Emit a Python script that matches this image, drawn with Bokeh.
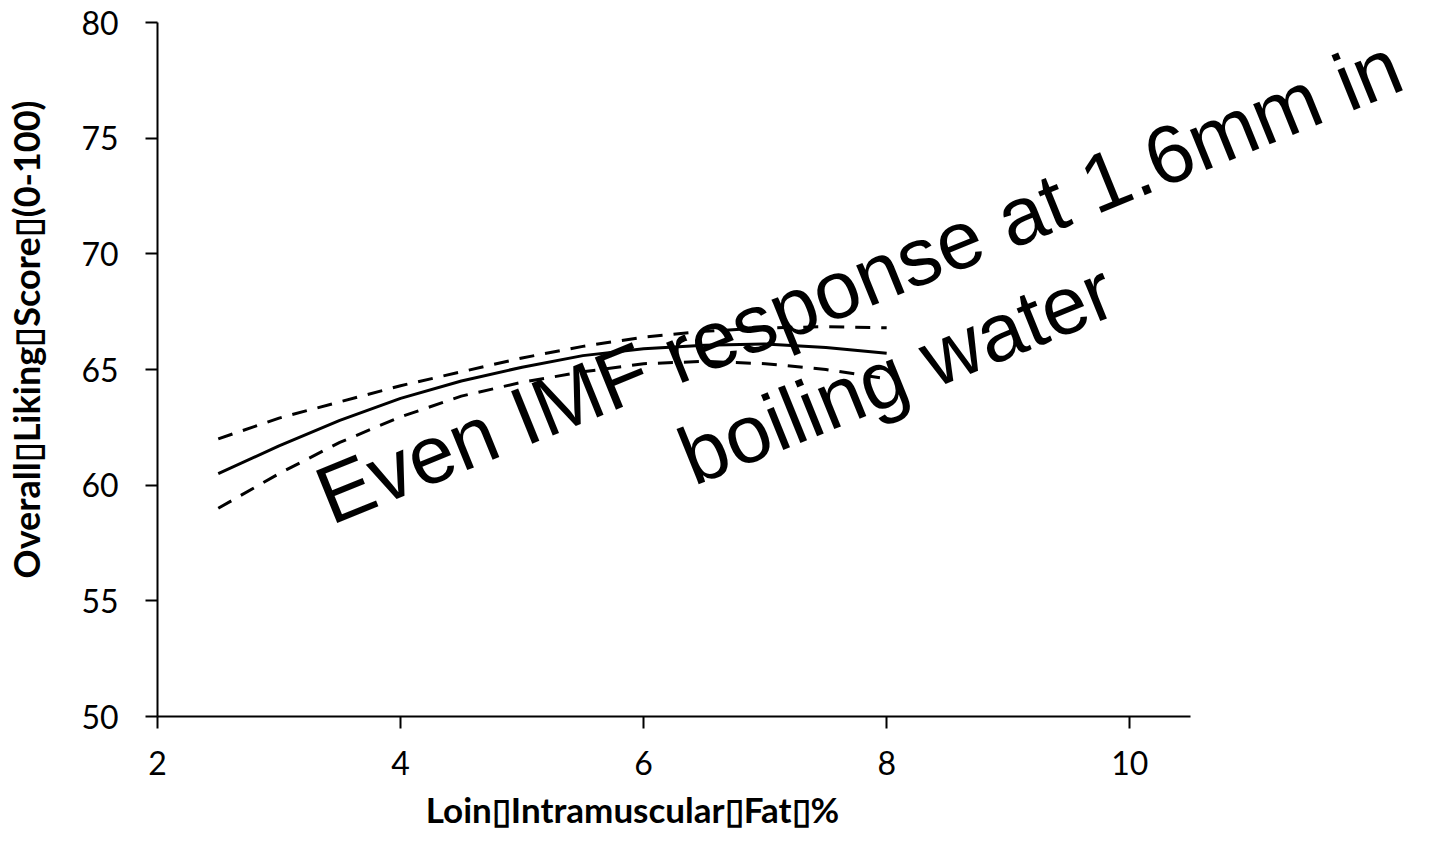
from bokeh.plotting import figure
from bokeh.models import Range1d, FixedTicker, Label
from bokeh.embed import file_html
from bokeh.resources import INLINE

# Loin IMF (%) and predicted overall liking with confidence bounds
imf = [2.5, 3.0, 3.5, 4.0, 4.5, 5.0, 5.5, 6.0, 6.5, 7.0, 7.5, 8.0]
liking_pred = [60.5, 61.7, 62.8, 63.75, 64.5, 65.1, 65.6, 65.9, 66.05, 66.1, 65.95, 65.7]
liking_upper = [62.0, 62.9, 63.6, 64.3, 64.9, 65.5, 66.0, 66.4, 66.65, 66.8, 66.85, 66.8]
liking_lower = [59.0, 60.5, 61.85, 62.95, 63.85, 64.45, 64.9, 65.25, 65.35, 65.25, 65.0, 64.6]

x_ticks = [2, 4, 6, 8, 10]
y_ticks = [50, 55, 60, 65, 70, 75, 80]
x_axis_bounds = (2, 10.5)
y_axis_bounds = (50, 80)

BOX = "\u25af"
x_title = f"Loin{BOX}Intramuscular{BOX}Fat{BOX}%"
y_title = f"Overall{BOX}Liking{BOX}Score{BOX}(0-100)"
note_line1 = "Even IMF response at 1.6mm in"
note_line2 = "boiling water"

W, H = 1429, 852
# plot area in pixels: axes cross at (157, 716), top-right of axes at (1190, 22)
PX_L, PX_R, PX_T, PX_B = 157, 1190, 22, 716
sx = (PX_R - PX_L) / (x_axis_bounds[1] - x_axis_bounds[0])
sy = (PX_B - PX_T) / (y_axis_bounds[1] - y_axis_bounds[0])
x_range = Range1d(x_axis_bounds[0] - PX_L / sx, x_axis_bounds[0] + (W - PX_L) / sx)
y_range = Range1d(y_axis_bounds[0] - (H - PX_B) / sy, y_axis_bounds[1] + PX_T / sy)

p = figure(width=W, height=H, output_backend="svg", toolbar_location=None,
           x_range=x_range, y_range=y_range,
           min_border_left=0, min_border_right=0,
           min_border_top=0, min_border_bottom=0)

p.background_fill_color = "white"
p.border_fill_color = "white"
p.outline_line_color = None
p.xgrid.visible = False
p.ygrid.visible = False

p.line(imf, liking_pred, line_color="black", line_width=3, line_join="round")
p.line(imf, liking_upper, line_color="black", line_width=3, line_dash="15 11",
       line_join="round")
p.line(imf, liking_lower, line_color="black", line_width=3, line_dash="15 11",
       line_join="round")

p.xaxis.ticker = FixedTicker(ticks=x_ticks)
p.yaxis.ticker = FixedTicker(ticks=y_ticks)
p.xaxis.fixed_location = y_axis_bounds[0]
p.yaxis.fixed_location = x_axis_bounds[0]
p.xaxis.bounds = x_axis_bounds
p.yaxis.bounds = y_axis_bounds

for ax in (p.xaxis[0], p.yaxis[0]):
    ax.axis_line_color = "black"
    ax.axis_line_width = 2
    ax.major_tick_line_color = "black"
    ax.major_tick_line_width = 2
    ax.major_tick_in = 0
    ax.major_tick_out = 12
    ax.minor_tick_line_color = None
    ax.major_label_text_font = "Lato"
    ax.major_label_text_font_size = "32px"
    ax.major_label_text_color = "black"

p.xaxis.major_label_standoff = 22
p.yaxis.major_label_standoff = 27

# Axis titles
p.add_layout(Label(x=4.208, y=45.98, text=x_title, text_font="Lato",
                   text_font_style="bold", text_font_size="35px",
                   text_color="black", text_align="left",
                   text_baseline="alphabetic"))
p.add_layout(Label(x=0.92, y=55.97, text=y_title, angle=90, angle_units="deg",
                   text_font="Lato", text_font_style="bold",
                   text_font_size="36px", text_color="black",
                   text_align="left", text_baseline="alphabetic"))

# Rotated two-line annotation, centred lines
for text, xx, yy in ((note_line1, 7.77, 68.85), (note_line2, 8.08, 64.84)):
    p.add_layout(Label(x=xx, y=yy, text=text, angle=22.1, angle_units="deg",
                       text_font="Liberation Sans", text_font_size="82px",
                       text_color="black", text_align="center",
                       text_baseline="alphabetic"))

open("out.html", "w").write(file_html(p, INLINE))
